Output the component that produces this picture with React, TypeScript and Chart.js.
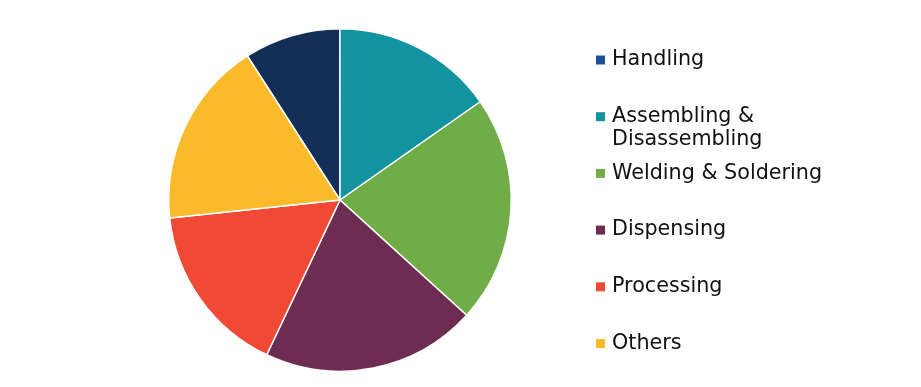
import React, { useEffect, useRef } from "react";
import { Chart, registerables } from "chart.js";

Chart.register(...registerables);

const categories: string[][] = [
  ["Handling"],
  ["Assembling &", "Disassembling"],
  ["Welding & Soldering"],
  ["Dispensing"],
  ["Processing"],
  ["Others"],
];
const shares: number[] = [9.1, 15.3, 21.5, 20.3, 16.3, 17.6];
const sliceColors: string[] = ["#132F57", "#1393A0", "#70AD47", "#6D2C51", "#F04A37", "#FBBA2A"];
const legendColors: string[] = ["#1F4E9A", "#1393A0", "#70AD47", "#6D2C51", "#F04A37", "#FBBA2A"];

const legendPlugin = {
  id: "customLegend",
  afterDraw(chart: any) {
    const ctx = chart.ctx;
    ctx.save();
    const x0 = 596;
    const y0 = 60;
    const step = 56.7;
    ctx.font = "20.7px 'DejaVu Sans', Verdana, sans-serif";
    ctx.textBaseline = "middle";
    ctx.textAlign = "left";
    categories.forEach((lines, i) => {
      const y = y0 + i * step;
      ctx.fillStyle = legendColors[i];
      ctx.fillRect(x0, y - 4.5, 9, 9);
      ctx.fillStyle = "#111111";
      lines.forEach((t, j) => {
        ctx.fillText(t, x0 + 16, y + j * 23);
      });
    });
    ctx.restore();
  },
};

export default function App() {
  const ref = useRef<HTMLCanvasElement>(null);
  useEffect(() => {
    if (!ref.current) return;
    const chart = new Chart(ref.current, {
      type: "pie",
      data: {
        labels: categories.map((c) => c.join(" ")),
        datasets: [
          {
            data: shares,
            backgroundColor: sliceColors,
            borderColor: "#ffffff",
            borderWidth: 1.5,
          },
        ],
      },
      options: {
        animation: false,
        responsive: false,
        rotation: -(shares[0] / 100) * 360,
        layout: { padding: { left: 168, right: 409, top: 28, bottom: 15 } },
        plugins: {
          legend: { display: false },
          tooltip: { enabled: false },
        },
      },
      plugins: [legendPlugin],
    });
    return () => chart.destroy();
  }, []);
  return (
    <div style={{ position: "absolute", left: 0, top: 0, width: 921, height: 387, background: "#fff" }}>
      <canvas ref={ref} width={921} height={387} />
    </div>
  );
}
